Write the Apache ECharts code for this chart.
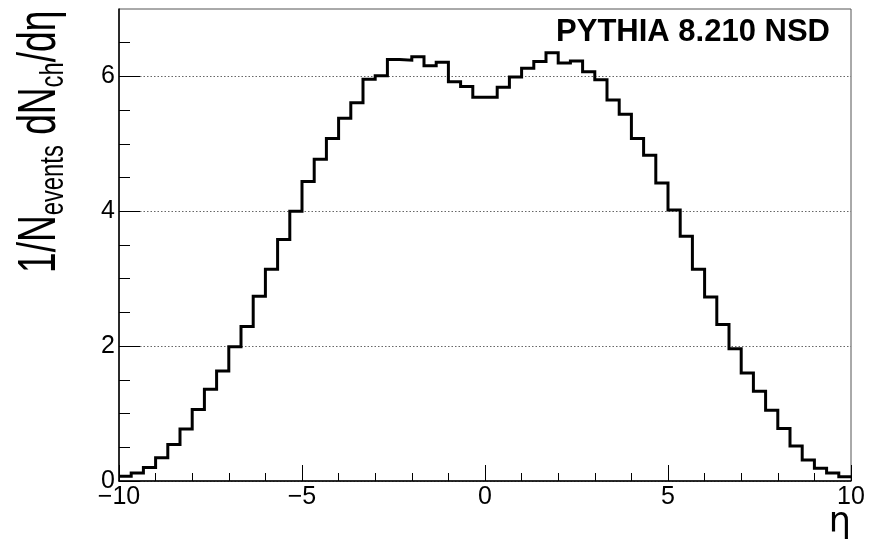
<!DOCTYPE html>
<html>
<head>
<meta charset="utf-8">
<title>Charged-particle pseudorapidity density</title>
<script src="https://cdn.jsdelivr.net/npm/echarts@6/dist/echarts.min.js"></script>
<style>
  html, body { margin: 0; padding: 0; background: #fff; }
  #chart { width: 870px; height: 540px; }
</style>
</head>
<body>
<div id="chart"></div>
<script>
// Histogram binning: 60 equal bins in eta from etaMin to etaMax
const etaMin = -10;
const etaMax = 10;

// 1/N_events dN_ch/deta per bin (PYTHIA 8.210 NSD)
const dNdEta = [
  0.07, 0.12, 0.20, 0.345, 0.54, 0.77, 1.06, 1.36, 1.63, 1.99,
  2.29, 2.74, 3.14, 3.58, 4.00, 4.44, 4.77, 5.08, 5.38, 5.61,
  5.96, 6.01, 6.25, 6.24, 6.29, 6.16, 6.21, 5.92, 5.85, 5.69,
  5.69, 5.84, 5.99, 6.12, 6.22, 6.35, 6.20, 6.23, 6.07, 5.95,
  5.65, 5.44, 5.08, 4.83, 4.42, 4.02, 3.63, 3.14, 2.73, 2.32,
  1.96, 1.60, 1.33, 1.05, 0.78, 0.52, 0.31, 0.19, 0.12, 0.064
];

// Axis ranges and tick values
const xTicks = [-10, -5, 0, 5, 10];
const yMax = 7;
const yMajorTicks = [0, 2, 4, 6];
const yMinorTicks = [0.5, 1, 1.5, 2.5, 3, 3.5, 4.5, 5, 5.5, 6.5];

const titleText = 'PYTHIA 8.210 NSD';
const xTitle = '\u03b7';
const FONT = '"Liberation Sans", Arial, Helvetica, sans-serif';

// Step-line points: one point at each bin's low edge, plus the last upper edge
const binWidth = (etaMax - etaMin) / dNdEta.length;
const stepPoints = dNdEta.map((v, i) => [etaMin + i * binWidth, v]);
stepPoints.push([etaMax, dNdEta[dNdEta.length - 1]]);

const fmt = v => (v < 0 ? '\u2212' + Math.abs(v) : String(v));

const chart = echarts.init(document.getElementById('chart'), null, { renderer: 'canvas' });

chart.setOption({
  animation: false,
  backgroundColor: '#fff',
  title: {
    text: titleText,
    right: 40,
    top: 17,
    padding: 0,
    textStyle: { fontFamily: FONT, fontSize: 31, fontWeight: 'bold', color: '#000' }
  },
  grid: {
    left: 119, right: 19, top: 9, bottom: 59,
    containLabel: false,
    outerBoundsMode: 'none',
    show: true, borderColor: '#555', borderWidth: 1, backgroundColor: 'transparent'
  },
  xAxis: {
    type: 'value',
    min: xTicks[0],
    max: xTicks[xTicks.length - 1],
    interval: 5,
    axisLine: { show: true, onZero: false, lineStyle: { color: '#000', width: 1.5 } },
    axisTick: { show: true, inside: true, length: 16, lineStyle: { color: '#000', width: 1 } },
    minorTick: { show: true, splitNumber: 5, length: 8, lineStyle: { color: '#000', width: 1 } },
    axisLabel: {
      fontFamily: FONT, fontSize: 25, color: '#000', margin: 4,
      formatter: fmt
    },
    splitLine: { show: false }
  },
  yAxis: [
    {
      type: 'value',
      position: 'left',
      min: 0,
      max: yMax,
      interval: 2,
      axisLine: { show: true, onZero: false, lineStyle: { color: '#000', width: 1.5 } },
      axisTick: {
        show: true, inside: true, length: 21, customValues: yMajorTicks,
        lineStyle: { color: '#000', width: 1 }
      },
      axisLabel: {
        fontFamily: FONT, fontSize: 25, color: '#000', margin: 4,
        customValues: yMajorTicks, formatter: fmt
      },
      splitLine: { show: true, lineStyle: { color: '#666', width: 1, type: [1.5, 2] } }
    },
    {
      type: 'value',
      position: 'left',
      min: 0,
      max: yMax,
      interval: 0.5,
      axisLine: { show: false, onZero: false },
      axisTick: {
        show: true, inside: true, length: 11, customValues: yMinorTicks,
        lineStyle: { color: '#000', width: 1 }
      },
      axisLabel: { show: false },
      splitLine: { show: false }
    }
  ],
  graphic: [
    {
      // y-axis title, rotated, with subscripts
      type: 'text',
      x: 40.5,
      y: 273,
      rotation: Math.PI / 2,
      scaleX: 0.7,
      scaleY: 1,
      silent: true,
      style: {
        text: '{m|1/N}{s|events}{m| dN}{s|ch}{m|/d\u03b7}',
        align: 'left',
        verticalAlign: 'middle',
        fill: '#000',
        rich: {
          m: { fontFamily: FONT, fontSize: 53, lineHeight: 60, fill: '#000' },
          s: { fontFamily: FONT, fontSize: 34, lineHeight: 33, verticalAlign: 'bottom', fill: '#000' }
        }
      }
    },
    {
      // x-axis title
      type: 'text',
      x: 851,
      y: 505,
      silent: true,
      style: {
        text: xTitle,
        align: 'right',
        verticalAlign: 'top',
        fontFamily: '"DejaVu Sans", sans-serif',
        fontSize: 35,
        fill: '#000'
      }
    }
  ],
  series: [
    {
      type: 'line',
      step: 'end',
      data: stepPoints,
      showSymbol: false,
      symbol: 'none',
      lineStyle: { color: '#000', width: 3, join: 'miter' },
      z: 5
    }
  ]
});
</script>
</body>
</html>
